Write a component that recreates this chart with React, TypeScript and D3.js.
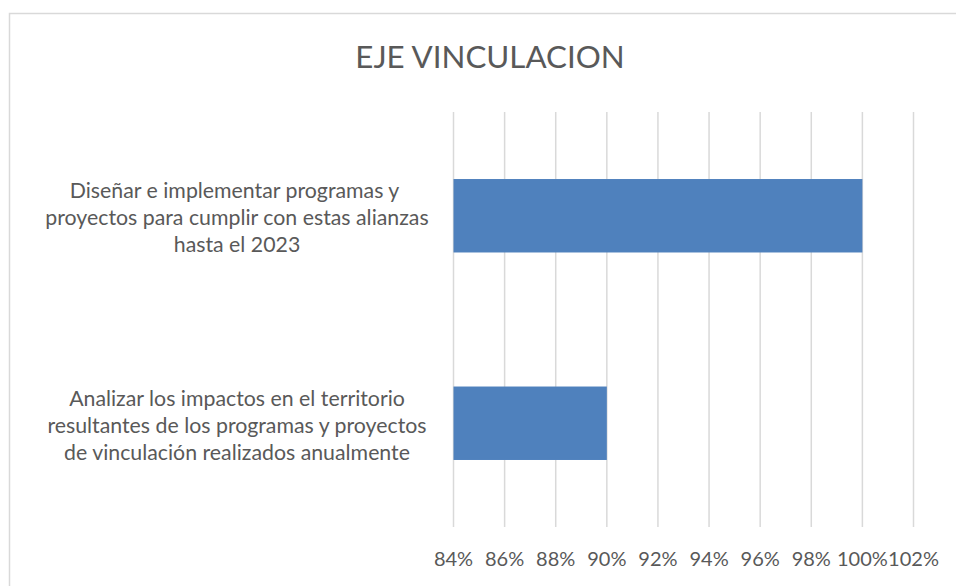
import React from "react";
import * as d3 from "d3";

const title = "EJE VINCULACION";
const categories = [
  "Diseñar e implementar programas y proyectos para cumplir con estas alianzas hasta el 2023",
  "Analizar los impactos en el territorio resultantes de los programas y proyectos de vinculación realizados anualmente",
];
const categoryLines = [
  ["Diseñar e implementar programas y ", "proyectos para cumplir con estas alianzas", "hasta el 2023"],
  ["Analizar los impactos en el territorio", "resultantes de los programas y proyectos", "de vinculación realizados anualmente"],
];
const values = [1.0, 0.9];
const tickValues = [0.84, 0.86, 0.88, 0.9, 0.92, 0.94, 0.96, 0.98, 1.0, 1.02];

const W = 956;
const H = 586;
const FONT = "Lato, 'Open Sans', sans-serif";
const TEXT = "#595959";
const GRID = "#D9D9D9";
const BAR = "#4F81BD";

export default function App() {
  const x = d3.scaleLinear().domain([0.84, 1.02]).range([453.5, 913.5]);
  const y = d3
    .scaleBand<string>()
    .domain(categories)
    .range([112, 527])
    .paddingInner(0.646)
    .paddingOuter(0.323);
  const fmt = d3.format(".0%");
  const labelX = 237;
  const lineH = 27;

  return (
    <svg
      width={W}
      height={H}
      style={{ position: "absolute", left: 0, top: 0, background: "#fff" }}
      fontFamily={FONT}
    >
      <rect x={0} y={0} width={W} height={H} fill="#fff" />
      <rect x={9.5} y={13.5} width={W + 20} height={H + 20} fill="none" stroke={GRID} strokeWidth={1.5} />
      <text x={490} y={68} textAnchor="middle" fontSize={31.3} fill={TEXT}>
        {title}
      </text>
      {tickValues.map((t) => (
        <line key={t} x1={x(t)} x2={x(t)} y1={112} y2={527} stroke={GRID} strokeWidth={1.5} />
      ))}
      {categories.map((c, i) => (
        <rect
          key={c}
          x={x(0.84)}
          y={y(c)}
          width={x(values[i]) - x(0.84)}
          height={y.bandwidth()}
          fill={BAR}
        />
      ))}
      {tickValues.map((t) => (
        <text key={t} x={x(t)} y={566} textAnchor="middle" fontSize={20} fill={TEXT}>
          {fmt(t)}
        </text>
      ))}
      {categories.map((c, i) => {
        const cy = (y(c) as number) + y.bandwidth() / 2;
        return (
          <text key={c} textAnchor="middle" fontSize={21.3} fill={TEXT}>
            {categoryLines[i].map((ln, j) => (
              <tspan key={j} x={labelX} y={cy + 9.5 + (j - 1) * lineH} style={{ whiteSpace: "pre" }}>
                {ln}
              </tspan>
            ))}
          </text>
        );
      })}
    </svg>
  );
}
